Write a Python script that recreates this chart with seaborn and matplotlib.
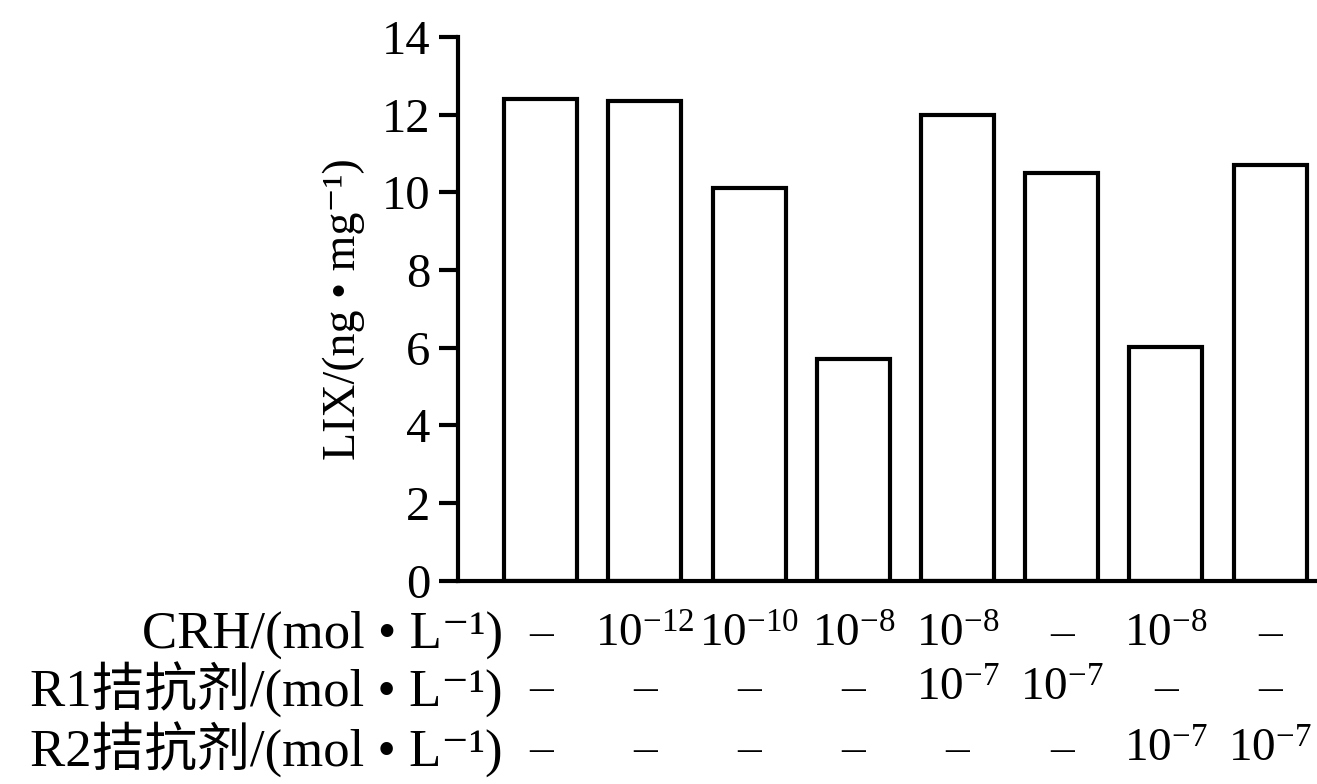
import matplotlib
matplotlib.use("Agg")
import matplotlib.pyplot as plt
import matplotlib.transforms as mtransforms
import seaborn as sns
import pandas as pd

# ---- data ----
groups = ["G1", "G2", "G3", "G4", "G5", "G6", "G7", "G8"]
lix_values = [12.4, 12.35, 10.1, 5.72, 11.98, 10.5, 6.02, 10.7]
crh_labels = ["–", "10$^{-12}$", "10$^{-10}$", "10$^{-8}$", "10$^{-8}$", "–", "10$^{-8}$", "–"]
r1_labels = ["–", "–", "–", "–", "10$^{-7}$", "10$^{-7}$", "–", "–"]
r2_labels = ["–", "–", "–", "–", "–", "–", "10$^{-7}$", "10$^{-7}$"]
row_titles = ["CRH/(mol • L⁻¹)", "R1拮抗剂/(mol • L⁻¹)", "R2拮抗剂/(mol • L⁻¹)"]
y_ticks = [0, 2, 4, 6, 8, 10, 12, 14]
y_label = "LIX/(ng • mg⁻¹)"

sns.set_style("ticks")
fam = ["Liberation Serif", "Noto Sans CJK SC", "DejaVu Serif"]
plt.rcParams["font.family"] = fam
plt.rcParams["mathtext.fontset"] = "custom"
plt.rcParams["mathtext.rm"] = "Liberation Serif"
plt.rcParams["mathtext.it"] = "Liberation Serif:italic"
plt.rcParams["mathtext.bf"] = "Liberation Serif:bold"
plt.rcParams["mathtext.default"] = "rm"
for k in ["text.color", "axes.labelcolor", "xtick.color", "ytick.color", "axes.edgecolor"]:
    plt.rcParams[k] = "black"

df = pd.DataFrame({"group": groups, "LIX": lix_values})

fig = plt.figure(figsize=(13.17, 7.84), dpi=100)
ax = fig.add_axes([0.348, 0.259, 0.652, 0.694])

sns.barplot(data=df, x="group", y="LIX", color="white", edgecolor="black",
            linewidth=3, width=0.7, ax=ax, saturation=1)

ax.set_ylim(0, 14)
ax.set_xlim(-0.79, 7.45)
ax.set_yticks(y_ticks)
ax.set_yticklabels([str(v) for v in y_ticks], fontsize=35)
ax.set_xticks([])
ax.set_xlabel("")
ax.set_ylabel(y_label, fontsize=33, labelpad=12)
ax.tick_params(axis="y", length=14, width=3, direction="out", pad=6)
for s in ["top", "right"]:
    ax.spines[s].set_visible(False)
for s in ["left", "bottom"]:
    ax.spines[s].set_linewidth(3)

trans = mtransforms.blended_transform_factory(ax.transData, fig.transFigure)
row_y = [0.19, 0.12, 0.043]
rows = [crh_labels, r1_labels, r2_labels]
for ry, title, labels in zip(row_y, row_titles, rows):
    fig.text(0.382, ry, title, ha="right", va="center", fontsize=38)
    for i, lab in enumerate(labels):
        ax.text(i, ry, lab, transform=trans, ha="center", va="center",
                fontsize=34, clip_on=False)

fig.savefig("out.png", dpi=100, facecolor="white")
